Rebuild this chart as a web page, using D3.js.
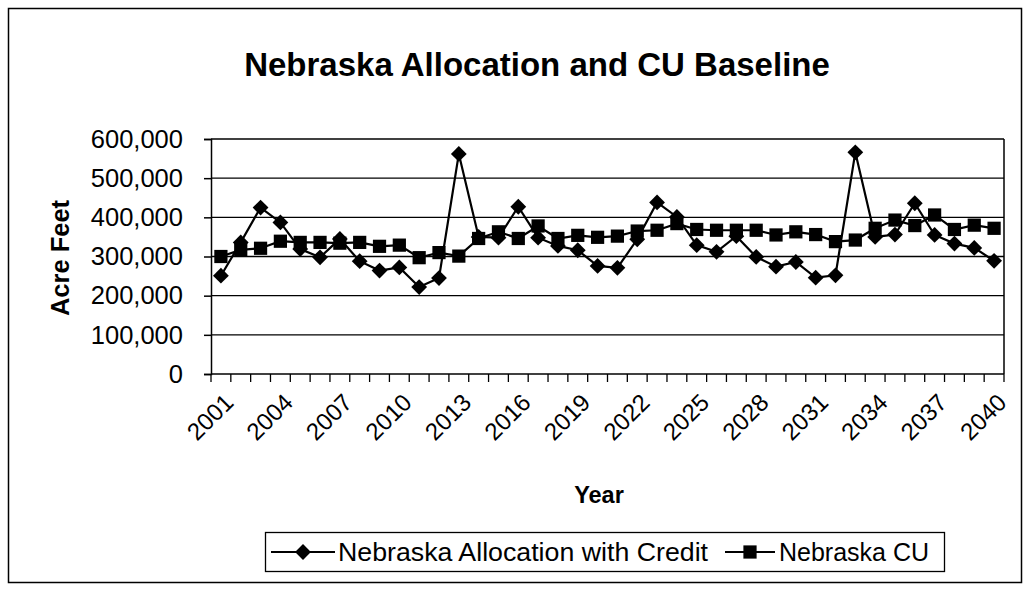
<!DOCTYPE html>
<html>
<head>
<meta charset="utf-8">
<script src="https://cdn.jsdelivr.net/npm/d3@7"></script>
<style>
    body { margin: 0; background: #ffffff; }
    text { font-family: "Liberation Sans", Arial, sans-serif; fill: #000000; }
</style>
</head>
<body>
<script>
// 图表数据
const years = d3.range(2001, 2041);
const labelYears = [2001, 2004, 2007, 2010, 2013, 2016, 2019, 2022, 2025, 2028, 2031, 2034, 2037, 2040];
const allocationWithCredit = [
    251000, 336000, 425000, 387000, 319000, 298000, 345000, 288000, 264000, 272000,
    222000, 245000, 562000, 350000, 348000, 427000, 348000, 327000, 316000, 276000,
    271000, 344000, 438000, 401000, 329000, 312000, 352000, 299000, 274000, 286000,
    246000, 252000, 566000, 350000, 356000, 436000, 355000, 333000, 322000, 289000
];
const nebraskaCU = [
    300000, 317000, 321000, 339000, 336000, 336000, 334000, 336000, 326000, 329000,
    297000, 310000, 301000, 346000, 363000, 346000, 378000, 346000, 354000, 349000,
    352000, 365000, 367000, 384000, 369000, 367000, 367000, 367000, 355000, 363000,
    356000, 338000, 342000, 372000, 393000, 379000, 406000, 369000, 380000, 372000
];
const yTicks = [0, 100000, 200000, 300000, 400000, 500000, 600000];
const seriesNames = ['Nebraska Allocation with Credit', 'Nebraska CU'];

// 画布参数
const renderParams = {
    svgWidth: 1026,
    svgHeight: 590,
    left: 211,
    right: 1004,
    top: 139,
    bottom: 374
};

const svg = d3.select('body')
    .append('svg')
    .attr('width', renderParams.svgWidth)
    .attr('height', renderParams.svgHeight);

// 外框
svg.append('rect')
    .attr('x', 8.5).attr('y', 8.5)
    .attr('width', 1013).attr('height', 574)
    .attr('fill', 'none')
    .attr('stroke', '#000')
    .attr('stroke-width', 1.5);

// 比例尺
const x = d3.scaleBand()
    .domain(years)
    .range([renderParams.left, renderParams.right]);
const y = d3.scaleLinear()
    .domain([0, 600000])
    .range([renderParams.bottom, renderParams.top]);

// 标题
svg.append('text')
    .attr('x', 537)
    .attr('y', 76)
    .attr('text-anchor', 'middle')
    .style('font-size', '33px')
    .style('font-weight', 'bold')
    .text('Nebraska Allocation and CU Baseline');

// 网格线
svg.append('g')
    .selectAll('line')
    .data(yTicks.filter(d => d > 0))
    .enter()
    .append('line')
    .attr('x1', renderParams.left)
    .attr('x2', renderParams.right)
    .attr('y1', d => y(d))
    .attr('y2', d => y(d))
    .attr('stroke', '#000')
    .attr('stroke-width', 1.3);

// 右边框
svg.append('line')
    .attr('x1', renderParams.right).attr('x2', renderParams.right)
    .attr('y1', renderParams.top).attr('y2', renderParams.bottom)
    .attr('stroke', '#000')
    .attr('stroke-width', 1.5);

// Y 轴
const yAxis = svg.append('g')
    .attr('transform', `translate(${renderParams.left},0)`)
    .call(d3.axisLeft(y)
        .tickValues(yTicks)
        .tickSize(7)
        .tickPadding(21)
        .tickFormat(d3.format(',')));
yAxis.selectAll('line, path').attr('stroke', '#000').attr('stroke-width', 1.5);
yAxis.selectAll('text')
    .style('font-size', '25.5px')
    .attr('fill', '#000');

// X 轴
const xAxis = svg.append('g')
    .attr('transform', `translate(0,${renderParams.bottom})`);
xAxis.append('line')
    .attr('x1', renderParams.left).attr('x2', renderParams.right)
    .attr('stroke', '#000')
    .attr('stroke-width', 1.5);
xAxis.selectAll('.tick')
    .data(years.concat(['end']))
    .enter()
    .append('line')
    .attr('class', 'tick')
    .attr('x1', d => d === 'end' ? renderParams.right : x(d))
    .attr('x2', d => d === 'end' ? renderParams.right : x(d))
    .attr('y1', 0)
    .attr('y2', 8)
    .attr('stroke', '#000')
    .attr('stroke-width', 1.3);
xAxis.selectAll('.label')
    .data(labelYears)
    .enter()
    .append('text')
    .attr('class', 'label')
    .attr('text-anchor', 'end')
    .attr('transform', d => `translate(${x(d) + x.bandwidth() / 2 + 8},${24}) rotate(-45)`)
    .attr('dy', '0.35em')
    .style('font-size', '24px')
    .text(d => d);

// 轴标题
svg.append('text')
    .attr('transform', 'translate(69,258) rotate(-90)')
    .attr('text-anchor', 'middle')
    .style('font-size', '25.5px')
    .style('font-weight', 'bold')
    .text('Acre Feet');
svg.append('text')
    .attr('x', 599)
    .attr('y', 503)
    .attr('text-anchor', 'middle')
    .style('font-size', '23.5px')
    .style('font-weight', 'bold')
    .text('Year');

// 折线与标记
const line = d3.line()
    .x((d, i) => x(years[i]) + x.bandwidth() / 2)
    .y(d => y(d));
// 菱形：旋转 45° 的正方形
const diamond = d3.symbol().type(d3.symbolSquare).size(125);
const square = d3.symbol().type(d3.symbolSquare).size(175);

const drawSeries = (values, symbol, rot) => {
    const g = svg.append('g');
    g.append('path')
        .datum(values)
        .attr('fill', 'none')
        .attr('stroke', '#000')
        .attr('stroke-width', 2.2)
        .attr('d', line);
    g.selectAll('path.mark')
        .data(values)
        .enter()
        .append('path')
        .attr('class', 'mark')
        .attr('transform', (d, i) => `translate(${x(years[i]) + x.bandwidth() / 2},${y(d)}) rotate(${rot})`)
        .attr('d', symbol)
        .attr('fill', '#000');
};
drawSeries(nebraskaCU, square, 0);
drawSeries(allocationWithCredit, diamond, 45);

// 图例
const legend = svg.append('g');
legend.append('rect')
    .attr('x', 265.5).attr('y', 532.5)
    .attr('width', 679).attr('height', 39)
    .attr('fill', '#fff')
    .attr('stroke', '#000')
    .attr('stroke-width', 1.3);
const legendItems = [
    {name: seriesNames[0], x0: 271, x1: 335, symbol: diamond, rot: 45, tx: 338, len: 370},
    {name: seriesNames[1], x0: 725, x1: 775, symbol: square, rot: 0, tx: 779, len: 150}
];
legendItems.forEach(item => {
    legend.append('line')
        .attr('x1', item.x0).attr('x2', item.x1)
        .attr('y1', 552).attr('y2', 552)
        .attr('stroke', '#000')
        .attr('stroke-width', 2.2);
    legend.append('path')
        .attr('transform', `translate(${(item.x0 + item.x1) / 2},552) rotate(${item.rot})`)
        .attr('d', item.symbol)
        .attr('fill', '#000');
    legend.append('text')
        .attr('x', item.tx)
        .attr('y', 561)
        .attr('textLength', item.len)
        .attr('lengthAdjust', 'spacingAndGlyphs')
        .style('font-size', '25px')
        .text(item.name);
});
</script>
</body>
</html>
